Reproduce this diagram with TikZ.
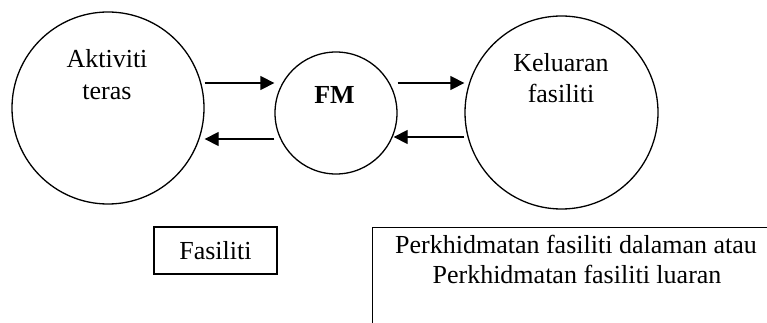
\documentclass[tikz,border=0pt]{standalone}
\usepackage{fontspec}
\setmainfont{Liberation Serif}
\usetikzlibrary{arrows.meta}
\begin{document}
\begin{tikzpicture}[x=1pt,y=-1pt,
  bubble/.style={circle,draw,line width=1.3pt,inner sep=0pt},
  lbl/.style={anchor=base,inner sep=0pt,font=\fontsize{26}{30}\selectfont},
  flow/.style={line width=1.3pt,-{Triangle[length=14pt,width=14pt]}},
  frame/.style={draw,line width=1.3pt,inner sep=0pt,font=\fontsize{26}{30}\selectfont}]
\useasboundingbox (0,0) rectangle (767,323);
\clip (0,0) rectangle (767,323);

% three circles
\node[bubble,minimum size=192pt] (akt) at (108,108) {};
\node[bubble,minimum size=122pt] (fm) at (336,113) {};
\node[bubble,minimum size=193pt] (kel) at (561.5,112.5) {};

% circle labels
\node[lbl] (akt1) at (107,68) {Aktiviti};
\node[lbl] (akt2) at (107,100) {teras};
\node[lbl,font=\fontsize{26}{30}\selectfont\bfseries] (fmt) at (334.5,104) {FM};
\node[lbl] (kel1) at (561,72) {Keluaran};
\node[lbl] (kel2) at (561,103) {fasiliti};

% flows between the circles
\draw[flow] ([yshift=25pt]akt.east) -- ([yshift=25pt]akt.east -| fm.west);
\draw[flow] ([yshift=-26pt]fm.west) -- ([yshift=-26pt]fm.west -| akt.east);
\draw[flow] ([yshift=30pt]fm.east) -- ([yshift=30pt]fm.east -| kel.west);
\draw[flow] ([yshift=-24.5pt]kel.west) -- ([yshift=-24.5pt,xshift=-4pt]kel.west -| fm.east);

% boxes below
\node[frame,minimum width=123pt,minimum height=47pt] (fas) at (215.5,250.5) {Fasiliti};
\node[frame,anchor=north west,minimum width=450pt,minimum height=150pt] (svc) at (372,227) {};
\node[lbl] (svc1) at (576,253) {Perkhidmatan fasiliti dalaman atau};
\node[lbl] (svc2) at (577,283) {Perkhidmatan fasiliti luaran};
\end{tikzpicture}
\end{document}
